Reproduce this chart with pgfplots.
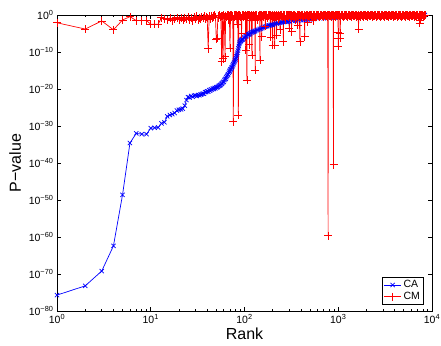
\documentclass[border=0pt]{standalone}
\usepackage{pgfplots}
\pgfplotsset{compat=1.18}
\usepackage{fontspec}
\setmainfont{Liberation Sans}
\begin{document}
\begin{tikzpicture}
\begin{axis}[
  width=375pt, height=296pt, scale only axis,
  xmode=log, ymode=log,
  xmin=1, xmax=10000, ymin=1e-80, ymax=1,
  xtick={1,10,100,1000,10000},
  xticklabels={10\textsuperscript{0},10\textsuperscript{1},10\textsuperscript{2},10\textsuperscript{3},10\textsuperscript{4}},
  ytick={1e-80,1e-70,1e-60,1e-50,1e-40,1e-30,1e-20,1e-10,1},
  yticklabels={10\textsuperscript{−80},10\textsuperscript{−70},10\textsuperscript{−60},10\textsuperscript{−50},10\textsuperscript{−40},10\textsuperscript{−30},10\textsuperscript{−20},10\textsuperscript{−10},10\textsuperscript{0}},
  yminorticks=false,
  tick align=inside,
  major tick length=4pt, minor tick length=2pt,
  axis line style={line width=0.9pt},
  tick style={line width=0.6pt, black},
  ticklabel style={font=\fontsize{10.5}{12}\selectfont},
  xlabel={Rank}, ylabel={P−value},
  label style={font=\fontsize{16}{18}\selectfont},
  xlabel style={yshift=3pt},
  ylabel style={yshift=1pt},
  legend style={at={(0.978,0.02)}, anchor=south east, draw=black, line width=0.8pt,
    font=\fontsize{10.5}{12}\selectfont, inner sep=1.5pt, row sep=-1pt},
  legend cell align=left,
]
\coordinate (SW) at (rel axis cs:0,0);
\coordinate (NE) at (rel axis cs:1,1);
\addplot[blue, line width=0.7pt, mark=x, mark size=3pt] coordinates {
(1,2.0e-76) (2,6.3e-74) (3,6.3e-70) (4,4e-63) (5,2.5e-49) (6,2.5e-35)
(7,1e-32) (8,6.3e-33) (9,6.3e-33) (10,2.5e-31) (11,3.2e-31) (12,4e-31)
(13,5e-30) (14,1e-29) (15,4e-28) (16,1e-27) (17,1.6e-27) (18,3.2e-27)
(19,1.6e-26) (20,2.5e-26) (21,3.2e-26) (22,5e-26) (23,3.2e-25) (24,1e-23)
(25,6.3e-23) (26,5e-23) (27,1.3e-22) (28,7.9e-23) (29,1.6e-22) (30,2e-22)
(31,1.3e-22) (32,2.5e-22) (33,2e-22) (34,3.2e-22) (35,4e-22) (36,6.3e-22)
(37,5e-22) (38,1.3e-21) (39,1.6e-21) (40,2.5e-21) (41,2e-21) (42,5e-21)
(43,3.2e-21) (44,7.9e-21) (45,6.3e-21) (46,1.3e-20) (47,1e-20) (48,2e-20)
(49,1.6e-20) (50,3.2e-20) (51,2.5e-20) (52,4e-20) (53,6.3e-20) (54,7.9e-20)
(55,1e-19) (56,1.6e-19) (57,2.5e-19) (58,4e-19) (59,6.3e-19) (60,1e-18)
(61,2.5e-18) (62,4e-18) (63,6.3e-18) (64,1.6e-17) (65,3.2e-17) (66,6.3e-17)
(67,1e-16) (68,2.5e-16) (69,5e-16) (70,1e-15) (71,2e-15) (72,3.2e-15)
(73,6.3e-15) (74,1e-14) (75,2.5e-14) (76,5e-14) (77,1e-13) (78,2e-13)
(79,5e-13) (80,1e-12) (81,2.5e-12) (82,6.3e-12) (83,2e-11) (84,6.3e-11)
(85,2.5e-10) (86,1e-9) (87,4e-9) (88,1.6e-8) (89,4e-8) (90,6.3e-8)
(91,1e-7) (92,1.3e-7) (93,2e-7) (95,3.2e-7) (96,2.5e-7) (98,6.3e-7)
(100,1e-6) (103,1.6e-6) (105,2e-6) (108,4e-6) (110,5e-6) (113,6.3e-6)
(115,1e-5) (118,1.6e-5) (120,2e-5) (123,2.5e-5) (125,3.2e-5) (128,4e-5)
(130,5e-5) (135,7.9e-5) (140,1e-4) (145,1.6e-4) (150,2e-4) (155,3.2e-4)
(160,4e-4) (165,6.3e-4) (170,7.9e-4) (175,1e-3) (180,1.3e-3) (185,1.6e-3)
(190,2e-3) (195,2.2e-3) (200,2.5e-3) (210,3.5e-3) (220,5e-3) (230,6.3e-3)
(240,7.9e-3) (250,0.01) (260,0.013) (270,0.014) (280,0.016) (290,0.018)
(300,0.02) (325,0.025) (350,0.032) (375,0.035) (400,0.04) (425,0.045)
(450,0.05) (475,0.056) (500,0.063) (550,0.079) (600,0.1) (700,0.13) (800,0.16)
(900,0.2) (1000,0.22) (1200,0.28) (1500,0.35) (2000,0.45) (2500,0.52)
(3000,0.6) (4000,0.7) (5000,0.8) (6000,0.87) (7000,0.93) (8000,0.98) (8400,1)
};
\addlegendentry{CA}
\addplot[red, line width=0.7pt, mark=+, mark size=4pt] coordinates {
(1,7.9e-3) (2,1.6e-4) (3,0.025) (4,1e-4) (5,0.045) (6,0.35) (7,0.032)
(8,0.032) (9,0.032) (10,3.2e-3) (11,3.2e-3) (12,3.2e-3) (13,0.2) (14,0.1)
(15,0.05) (16,0.16) (17,0.03) (18,0.1) (19,0.2) (20,0.05) (21,0.13)
(22,0.04) (23,0.2) (24,0.08) (25,0.3) (26,0.06) (27,0.16) (28,0.03)
(29,0.25) (30,0.1) (31,0.4) (32,0.05) (33,0.2) (34,0.1) (35,0.3)
(36,0.13) (37,0.5) (38,0.08) (39,0.3) (40,0.15) (41,7.9e-10) (42,0.4)
(43,0.1) (44,0.6) (45,0.2) (46,0.5) (47,0.3) (48,0.8) (49,0.25)
(50,3.2e-7) (51,6.3e-7) (52,0.6) (53,0.2) (54,0.9) (55,0.3) (56,0.7)
(57,2.5e-13) (58,0.5) (59,1.6e-12) (60,0.9) (61,0.3) (62,5e-12) (63,0.7)
(64,0.25) (65,0.9) (66,0.4) (67,0.8) (68,0.05) (69,0.6) (70,1.3e-9)
(71,0.8) (72,0.3) (73,0.9) (74,0.4) (75,0.7) (76,1.6e-29) (77,0.8)
(78,0.3) (79,0.6) (80,1) (81,0.4) (82,0.9) (83,3.2e-3) (84,0.7) (85,0.3)
(86,1e-27) (87,0.8) (88,0.4) (89,1) (90,0.3) (91,0.7) (92,0.2) (93,1e-5)
(94,0.9) (95,0.5) (96,0.8) (97,0.3) (98,1) (100,0.4) (102,0.8)
(103,3.2e-10) (104,0.7) (105,0.3) (106,2.5e-18) (107,0.9) (108,0.4)
(110,0.8) (112,0.3) (113,1e-8) (114,0.9) (116,0.5) (117,0.03) (118,0.8)
(120,1.6e-11) (121,0.7) (123,0.3) (125,1) (127,0.4) (129,0.8)
(130,1.3e-15) (131,0.6) (133,0.3) (135,0.9) (137,0.05) (139,0.7)
(141,0.3) (143,1) (145,0.5) (146,6.3e-13) (147,0.8) (149,0.3) (151,0.9)
(153,1.3e-6) (154,0.7) (156,0.4) (158,1) (160,0.3) (162,0.8) (165,0.5)
(167,1e-3) (168,0.9) (170,0.4) (172,0.8) (175,0.2) (178,1) (181,0.5)
(184,0.8) (187,0.3) (190,1e-6) (191,0.9) (194,0.4) (197,0.8)
(200,7.9e-9) (201,0.7) (204,0.3) (207,1) (210,7.9e-9) (211,0.6)
(214,0.3) (217,0.9) (220,3.2e-6) (221,0.8) (224,0.4) (227,0.9) (230,0.1)
(233,0.7) (236,0.3) (240,1e-4) (241,0.9) (245,0.4) (249,0.8) (253,0.3)
(257,1) (260,6.3e-8) (261,0.7) (265,0.3) (269,0.9) (273,0.06) (277,0.8)
(281,0.4) (285,1) (290,0.3) (295,0.8) (300,3.2e-4) (301,0.9) (305,0.4)
(310,0.8) (314,0.2) (318,3.2e-5) (319,1) (324,0.4) (329,0.8) (334,0.3)
(339,0.9) (345,0.05) (350,0.7) (356,0.3) (362,1) (368,0.4) (370,1.6e-3)
(371,0.8) (377,0.3) (384,0.9) (390,6.3e-8) (391,0.7) (397,0.3) (404,1)
(411,0.4) (418,0.8) (425,0.3) (432,0.9) (440,1.3e-6) (441,0.7) (448,0.3)
(456,1) (463,0.4) (470,0.01) (471,0.8) (479,0.4) (487,0.9) (495,0.3)
(504,1) (512,0.5) (521,0.8) (530,0.3) (540,0.032) (541,1) (550,0.4)
(560,0.8) (569,0.3) (579,0.9) (589,0.5) (599,1) (609,0.4) (620,0.8)
(630,0.3) (641,0.9) (652,0.5) (663,1) (675,0.4) (686,0.8) (698,0.3)
(710,0.9) (722,0.5) (735,1) (747,0.4) (760,0.8) (773,0.3) (780,2.5e-60)
(781,0.9) (795,0.5) (809,1) (823,0.4) (837,0.8) (851,0.3) (866,0.9)
(881,0.5) (890,3.2e-41) (891,1) (906,0.4) (922,0.8) (938,0.3) (954,0.9)
(970,0.5) (987,1) (1000,2e-5) (1001,4e-7) (1002,3.2e-9) (1003,0.8)
(1021,0.4) (1039,0.9) (1050,6.3e-7) (1051,1.3e-5) (1057,0.3) (1075,1) (1094,0.5)
(1113,0.8) (1132,0.3) (1152,0.9) (1172,0.5) (1192,1) (1213,0.4)
(1234,0.8) (1255,0.3) (1277,0.9) (1299,0.5) (1322,1) (1345,0.4)
(1368,0.8) (1392,0.3) (1416,0.9) (1441,0.5) (1466,1) (1491,0.4)
(1517,0.8) (1543,0.3) (1570,0.9) (1597,0.5) (1625,1) (1650,1.6e-4)
(1651,0.8) (1680,0.4) (1709,0.9) (1739,0.3) (1769,1) (1800,0.5)
(1831,0.8) (1863,0.3) (1895,0.9) (1928,0.5) (1962,1) (1996,0.4)
(2030,0.8) (2066,0.3) (2101,0.9) (2138,0.5) (2175,1) (2213,0.4)
(2251,0.8) (2290,0.3) (2330,0.9) (2370,0.5) (2412,1) (2453,0.4)
(2496,0.8) (2539,0.3) (2583,0.9) (2628,0.5) (2674,1) (2720,0.4)
(2767,0.8) (2815,0.3) (2864,0.9) (2914,0.5) (2964,1) (3016,0.4)
(3068,0.8) (3121,0.3) (3176,0.9) (3231,0.5) (3287,1) (3344,0.4)
(3402,0.8) (3461,0.3) (3521,0.9) (3582,0.5) (3645,1) (3708,0.4)
(3772,0.8) (3838,0.3) (3904,0.9) (3972,0.5) (4041,1) (4111,0.4)
(4183,0.8) (4255,0.3) (4329,0.9) (4404,0.5) (4481,1) (4559,0.4)
(4638,0.8) (4718,0.3) (4800,0.9) (4884,0.5) (4968,1) (5055,0.4)
(5143,0.8) (5232,0.3) (5323,0.9) (5415,0.5) (5509,1) (5605,0.4)
(5702,0.8) (5801,0.3) (5902,0.9) (6004,0.5) (6109,1) (6215,0.4)
(6323,0.8) (6433,0.3) (6544,0.9) (6658,0.5) (6774,1) (6891,0.4)
(7011,0.8) (7133,0.3) (7257,0.9) (7383,0.5) (7400,6.3e-3) (7401,1)
(7450,0.045) (7451,0.8) (7511,0.4) (7641,0.8) (7774,0.3) (7909,0.9)
(8046,0.5) (8186,1) (8300,0.6) (8400,0.9)
};
\addlegendentry{CM}
\end{axis}
\pgfresetboundingbox
\path[use as bounding box] ([shift={(-57pt,-34pt)}]SW) rectangle ([shift={(9pt,15pt)}]NE);
\end{tikzpicture}
\end{document}
